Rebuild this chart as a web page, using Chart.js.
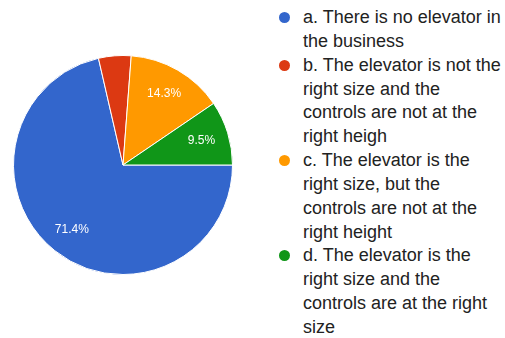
<!DOCTYPE html>
<html>
<head>
<meta charset="utf-8">
<script src="https://cdn.jsdelivr.net/npm/chart.js@4/dist/chart.umd.min.js"></script>
<style>
  html, body { margin: 0; padding: 0; background: #fff; }
  #wrap { position: relative; width: 505px; height: 338px; overflow: hidden; }
  #pieBox { position: absolute; left: 0; top: 0; width: 246px; height: 338px; }
  #legend {
    position: absolute; left: 303px; top: 6px; width: 200px;
    font-family: "Liberation Sans", Arial, sans-serif; font-size: 18px;
    line-height: 23.85px; color: #222;
  }
  .item { position: relative; }
  .dot { position: absolute; left: -24px; top: 6px; width: 11px; height: 11px; border-radius: 50%; }
</style>
</head>
<body>
<div id="wrap">
  <div id="pieBox"><canvas id="pie"></canvas></div>
  <div id="legend"></div>
</div>
<script>
// Answer options, one entry per line of the wrapped legend text
const answers = [
  ["a. There is no elevator in", "the business"],
  ["b. The elevator is not the", "right size and the", "controls are not at the", "right heigh"],
  ["c. The elevator is the", "right size, but the", "controls are not at the", "right height"],
  ["d. The elevator is the", "right size and the", "controls are at the right", "size"]
];
// Share of responses, in percent
const shares = [71.4, 4.8, 14.3, 9.5];
const sliceColors = ["#3366cc", "#dc3912", "#ff9900", "#109618"];

// Legend built from the same arrays
const legend = document.getElementById('legend');
answers.forEach((lines, i) => {
  const item = document.createElement('div');
  item.className = 'item';
  const dot = document.createElement('span');
  dot.className = 'dot';
  dot.style.background = sliceColors[i];
  item.appendChild(dot);
  lines.forEach((ln, j) => {
    if (j) item.appendChild(document.createElement('br'));
    item.appendChild(document.createTextNode(ln));
  });
  legend.appendChild(item);
});

// Percentage labels inside the larger slices
const sliceLabels = {
  id: 'sliceLabels',
  afterDatasetsDraw(chart) {
    const ctx = chart.ctx;
    const meta = chart.getDatasetMeta(0);
    ctx.save();
    ctx.fillStyle = '#ffffff';
    ctx.font = '12px "Liberation Sans", Arial, sans-serif';
    ctx.textAlign = 'center';
    ctx.textBaseline = 'middle';
    meta.data.forEach((arc, i) => {
      const v = chart.data.datasets[0].data[i];
      if (v < 5) return;
      const p = arc.getProps(['x', 'y', 'startAngle', 'endAngle', 'outerRadius']);
      const mid = (p.startAngle + p.endAngle) / 2;
      const r = p.outerRadius * 0.75;
      ctx.fillText(v.toFixed(1) + '%', p.x + Math.cos(mid) * r, p.y + Math.sin(mid) * r);
    });
    ctx.restore();
  }
};

new Chart(document.getElementById('pie'), {
  type: 'pie',
  data: {
    labels: answers,
    datasets: [{
      data: shares,
      backgroundColor: sliceColors,
      borderColor: '#ffffff',
      borderWidth: 1
    }]
  },
  options: {
    responsive: true,
    maintainAspectRatio: false,
    animation: false,
    rotation: 90,
    layout: { padding: { left: 13, right: 13, top: 55, bottom: 63 } },
    plugins: { legend: { display: false }, tooltip: { enabled: false } }
  },
  plugins: [sliceLabels]
});
</script>
</body>
</html>
